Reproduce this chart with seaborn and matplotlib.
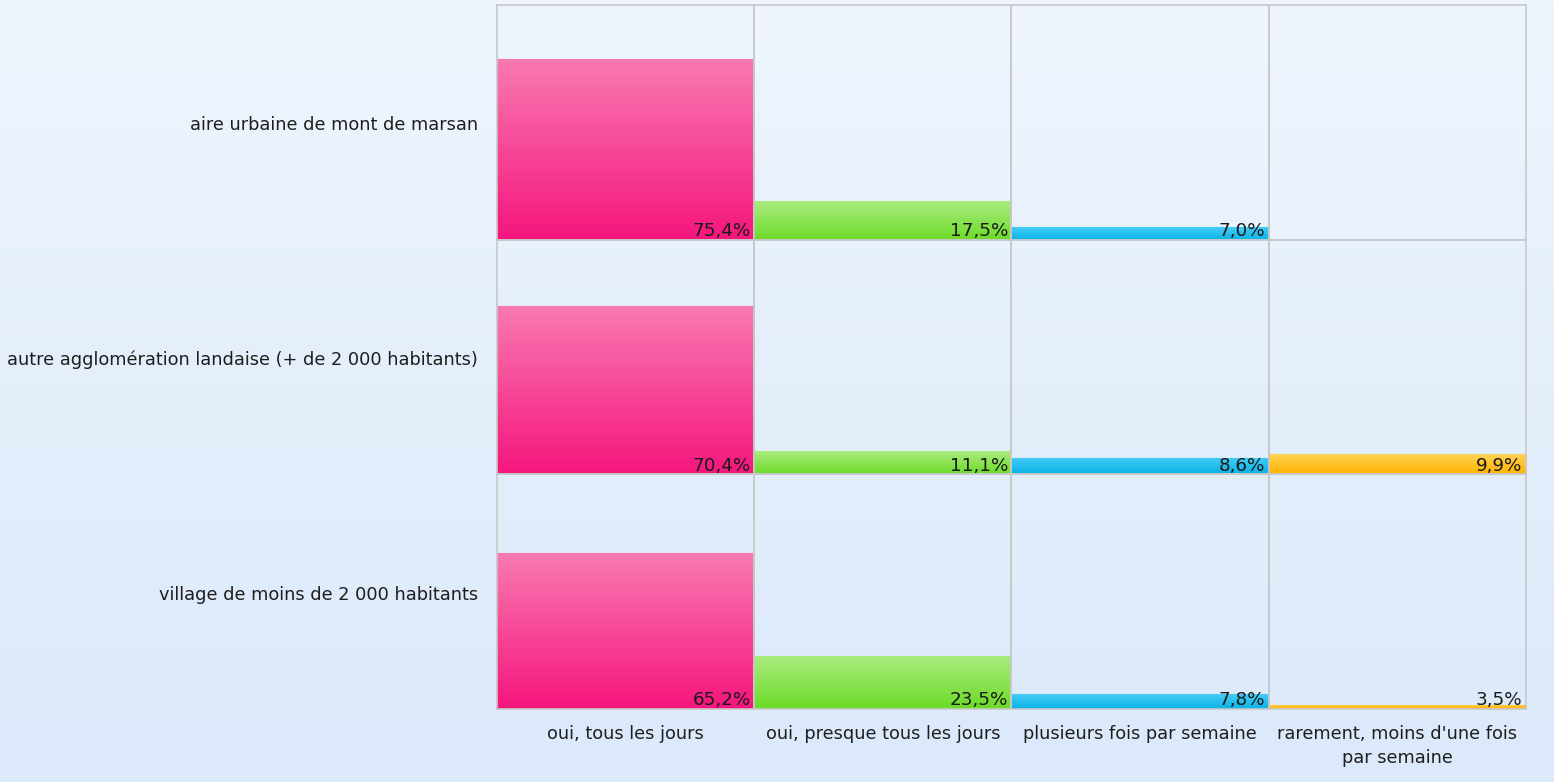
import numpy as np
import pandas as pd
import matplotlib.pyplot as plt
import seaborn as sns
from matplotlib.colors import LinearSegmentedColormap

# données
lignes = ['aire urbaine de mont de marsan',
          'autre agglomération landaise (+ de 2 000 habitants)',
          'village de moins de 2 000 habitants']
colonnes = ['oui, tous les jours', 'oui, presque tous les jours',
            'plusieurs fois par semaine', "rarement, moins d'une fois\npar semaine"]
tous_les_jours = [75.4, 70.4, 65.2]
presque_tous = [17.5, 11.1, 23.5]
plusieurs_fois = [7.0, 8.6, 7.8]
rarement = [np.nan, 9.9, 3.5]

valeurs = pd.DataFrame({colonnes[0]: tous_les_jours, colonnes[1]: presque_tous,
                        colonnes[2]: plusieurs_fois, colonnes[3]: rarement},
                       index=lignes)

# couleurs (haut, bas) des dégradés
couleurs = [('#f97ab2', '#f5167d'), ('#abec80', '#6cdb28'),
            ('#45cdf6', '#08b2e5'), ('#ffd255', '#ffb300')]

sns.set_style('white')
plt.rcParams['font.family'] = ['DejaVu Sans']

W, H = 1554, 782
fig = plt.figure(figsize=(W / 100, H / 100), dpi=100)

# fond en dégradé bleu clair
bg = fig.add_axes([0, 0, 1, 1], zorder=-1)
bg.imshow(np.linspace(0, 1, 256).reshape(-1, 1), aspect='auto',
          cmap=LinearSegmentedColormap.from_list('fond', ['#eef5fd', '#dbe9fa']),
          extent=[0, 1, 0, 1])
bg.axis('off')

gauche, droite, haut, bas = 497 / W, 1526 / W, 1 - 5 / H, 1 - 709 / H
gs = fig.add_gridspec(3, 4, left=gauche, right=droite, top=haut, bottom=bas,
                      wspace=0, hspace=0)

ymin, ymax = 1.8, 97.2
for i, ligne in enumerate(lignes):
    for j, col in enumerate(colonnes):
        ax = fig.add_subplot(gs[i, j])
        ax.patch.set_alpha(0)
        v = valeurs.loc[ligne, col]
        if not np.isnan(v):
            sns.barplot(x=[col], y=[v], ax=ax, color=couleurs[j][1], width=1,
                        edgecolor=couleurs[j][0], linewidth=0.8)
            barre = ax.patches[0]
            cmap = LinearSegmentedColormap.from_list('c', [couleurs[j][1], couleurs[j][0]])
            img = ax.imshow(np.linspace(0, 1, 256).reshape(-1, 1), aspect='auto',
                            cmap=cmap, origin='lower',
                            extent=[-0.5, 0.5, ymin, max(v, ymin + 0.1)], zorder=2)
            img.set_clip_path(barre)
            ax.text(0.487, ymin - 0.2, f'{v:.1f}%'.replace('.', ','),
                    ha='right', va='bottom', fontsize=13.2, color='#1a1a1a', zorder=3)
        ax.set_xlim(-0.5, 0.5)
        ax.set_ylim(ymin, ymax)
        ax.set_xticks([])
        ax.set_yticks([])
        ax.set_xlabel('')
        ax.set_ylabel('')
        for s in ax.spines.values():
            s.set_color('#c8c8c8')
            s.set_linewidth(1.2)
        if j == 0:
            ax.text(-0.5 - 19 / 257, (ymin + ymax) / 2 - 1.2, ligne, ha='right', va='center',
                    fontsize=12.8, color='#1e1e1e', transform=ax.transData)
        if i == 2:
            ax.text(0, ymin - 6.5, col, ha='center', va='top', fontsize=12.8,
                    color='#1e1e1e', linespacing=1.45, clip_on=False)

fig.savefig('out.png', dpi=100)
